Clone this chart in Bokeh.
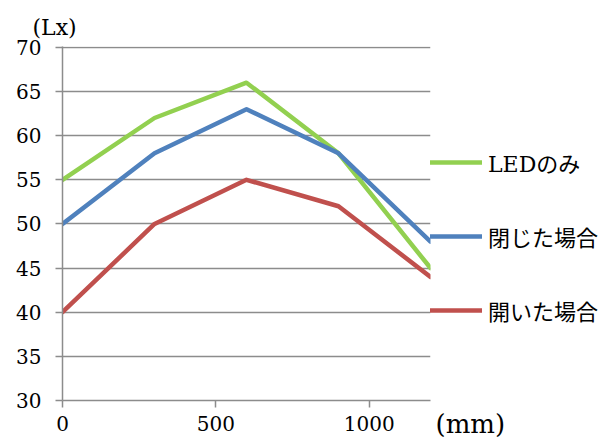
from bokeh.plotting import figure
from bokeh.models import Legend, LegendItem, Title, Label, Range1d, FixedTicker
from bokeh.embed import file_html
from bokeh.resources import INLINE

x_mm = [0, 300, 600, 900, 1200]
led_only = [55, 62, 66, 58, 45]
closed = [50, 58, 63, 58, 48]
opened = [40, 50, 55, 52, 44]
series_names = ["LEDのみ", "閉じた場合", "開いた場合"]
colors = ["#92D050", "#4F81BD", "#C0504D"]
y_ticks = [30, 35, 40, 45, 50, 55, 60, 65, 70]
x_ticks = [0, 500, 1000]

FONT = "'DejaVu Serif', 'Noto Sans CJK JP', serif"

p = figure(frame_width=368, frame_height=354, output_backend="svg", toolbar_location=None,
           x_range=Range1d(0, 1200), y_range=Range1d(30, 70.1),
           min_border_left=62, min_border_right=179, min_border_top=46, min_border_bottom=41)
p.outline_line_color = None
p.background_fill_color = "white"
p.border_fill_color = "white"

p.xgrid.visible = False
p.ygrid.grid_line_color = "#8C8C8C"
p.ygrid.grid_line_width = 1.5
p.yaxis.ticker = FixedTicker(ticks=y_ticks)
p.xaxis.ticker = FixedTicker(ticks=x_ticks)
for ax in (p.xaxis[0], p.yaxis[0]):
    ax.axis_line_color = "#8C8C8C"
    ax.axis_line_width = 1.5
    ax.major_tick_line_color = "#8C8C8C"
    ax.major_tick_line_width = 1.5
    ax.major_tick_out = 7
    ax.major_tick_in = 0
    ax.minor_tick_line_color = None
    ax.major_label_text_font = FONT
    ax.major_label_text_font_size = "20px"
    ax.major_label_text_color = "black"
p.yaxis.major_label_standoff = 14
p.xaxis.major_label_standoff = 8

items = []
for ys, name, c in zip([led_only, closed, opened], series_names, colors):
    r = p.line(x_mm, ys, line_color=c, line_width=4.5, line_join="round", line_cap="round")
    items.append(LegendItem(label=name, renderers=[r]))

legend = Legend(items=items, location=(0, 74), orientation="vertical",
                glyph_width=52, glyph_height=24, label_height=24, label_standoff=6,
                spacing=42, padding=0, margin=0, border_line_color=None,
                background_fill_alpha=0, label_text_font=FONT,
                label_text_font_size="22px", label_text_color="black")
p.add_layout(legend, "right")

p.add_layout(Title(text="(Lx)", align="left", offset=-30, standoff=14,
                   text_font=FONT, text_font_size="22px", text_font_style="normal",
                   text_color="black"), "above")
p.add_layout(Label(x=1200, y=30, text="(mm)", x_offset=5, y_offset=-38,
                   text_font=FONT, text_font_size="26px", text_color="black"), "below")

open("out.html", "w").write(file_html(p, INLINE))
